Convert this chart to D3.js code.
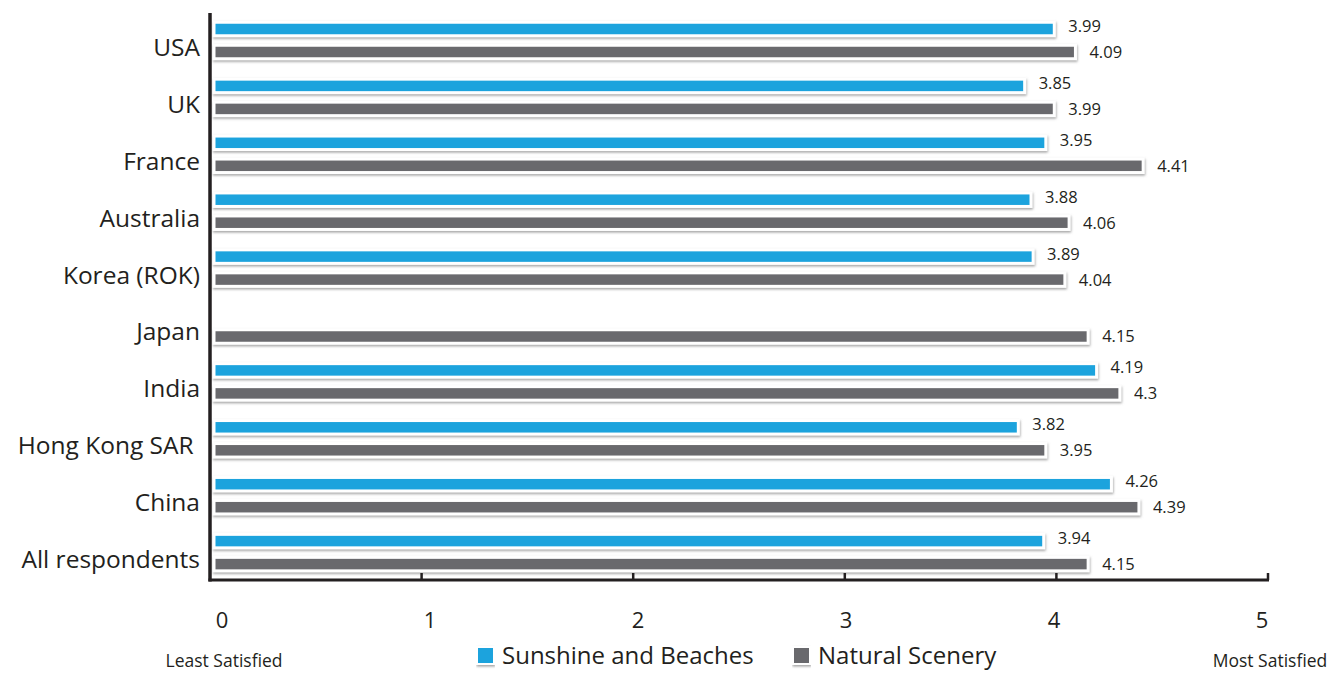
<!DOCTYPE html>
<html>
<head>
<meta charset="utf-8">
<script src="https://cdn.jsdelivr.net/npm/d3@7"></script>
<style>
  html, body { margin: 0; padding: 0; background: #fff; }
  svg { display: block; }
  text { font-family: "Open Sans", "Noto Sans", sans-serif; fill: #231f20; }
</style>
</head>
<body>
<svg id="chart" width="1342" height="673"></svg>
<script>
// Satisfaction ratings by respondent country (1 = least, 5 = most satisfied)
const categories = ["USA", "UK", "France", "Australia", "Korea (ROK)", "Japan",
                    "India", "Hong Kong SAR ", "China", "All respondents"];
const sunshineBeaches = [3.99, 3.85, 3.95, 3.88, 3.89, null, 4.19, 3.82, 4.26, 3.94];
const naturalScenery  = [4.09, 3.99, 4.41, 4.06, 4.04, 4.15, 4.3, 3.95, 4.39, 4.15];
const seriesNames = ["Sunshine and Beaches", "Natural Scenery"];
const seriesColors = ["#1ba3dd", "#69696d"];
const tickValues = [0, 1, 2, 3, 4, 5];
const endLabels = ["Least Satisfied", "Most Satisfied"];

const svg = d3.select("#chart");

// drop shadow used under bars and legend swatches
const defs = svg.append("defs");
const f = defs.append("filter").attr("id", "shadow")
  .attr("x", "-5%").attr("y", "-60%").attr("width", "110%").attr("height", "220%");
f.append("feDropShadow").attr("dx", 0.5).attr("dy", 1.5)
  .attr("stdDeviation", 1).attr("flood-color", "#8a8a8a").attr("flood-opacity", 0.8);

const x = d3.scaleLinear().domain([0, 5]).range([210, 1268]);
const xLabel = d3.scaleLinear().domain([0, 5]).range([222, 1262]);
const y = d3.scaleBand().domain(categories).range([12, 581]).padding(0);
const ySub = d3.scaleBand().domain(seriesNames).range([5.5, 51.5]).padding(0);
const barH = 13.5;

const rows = categories.map((c, i) => ({
  category: c,
  values: [sunshineBeaches[i], naturalScenery[i]]
}));

const groups = svg.append("g").selectAll("g.row").data(rows).join("g")
  .attr("class", "row")
  .attr("transform", d => `translate(0,${y(d.category)})`);

const cells = groups.selectAll("g.cell")
  .data(d => d.values.map((v, k) => ({ v, k })).filter(e => e.v != null))
  .join("g").attr("class", "cell");

cells.append("rect")
  .attr("x", x(0) + 4)
  .attr("y", d => ySub(seriesNames[d.k]) + ySub.bandwidth() / 2 - barH / 2)
  .attr("width", d => x(d.v) - x(0) - 4)
  .attr("height", barH)
  .attr("fill", d => seriesColors[d.k])
  .attr("stroke", "#fff")
  .attr("stroke-width", 3)
  .attr("filter", "url(#shadow)");

cells.append("text")
  .attr("x", d => x(d.v) + 14)
  .attr("y", d => ySub(seriesNames[d.k]) + ySub.bandwidth() / 2 + (d.k === 0 ? -3 : 0))
  .attr("dy", "0.36em")
  .attr("font-size", 16.5)
  .text(d => d.v);

// category labels
groups.append("text")
  .attr("x", 200)
  .attr("y", y.bandwidth() / 2 + 15.5)
  .attr("text-anchor", "end")
  .attr("font-size", 24.5)
  .attr("xml:space", "preserve")
  .style("white-space", "pre")
  .text(d => d.category);

// axes
const axisY = 580;
svg.append("line")
  .attr("x1", x(0)).attr("x2", x(0)).attr("y1", 13).attr("y2", axisY + 1.5)
  .attr("stroke", "#231f20").attr("stroke-width", 3.5);
svg.append("line")
  .attr("x1", x(0) - 1.5).attr("x2", x(5) + 1).attr("y1", axisY).attr("y2", axisY)
  .attr("stroke", "#231f20").attr("stroke-width", 3);
svg.append("g").selectAll("line").data(tickValues.filter(t => t > 0)).join("line")
  .attr("x1", d => x(d)).attr("x2", d => x(d))
  .attr("y1", axisY - 7).attr("y2", axisY)
  .attr("stroke", "#231f20").attr("stroke-width", 2.5);

svg.append("g").selectAll("text").data(tickValues).join("text")
  .attr("x", d => xLabel(d)).attr("y", 628)
  .attr("text-anchor", "middle").attr("font-size", 22)
  .text(d => d);

svg.append("text").attr("x", 224).attr("y", 667)
  .attr("text-anchor", "middle").attr("font-size", 17.5).text(endLabels[0]);
svg.append("text").attr("x", 1270).attr("y", 667)
  .attr("text-anchor", "middle").attr("font-size", 17.5).text(endLabels[1]);

// legend
const legendX = [477, 793];
const legend = svg.append("g").selectAll("g").data(seriesNames).join("g")
  .attr("transform", (d, i) => `translate(${legendX[i]},647)`);
legend.append("rect").attr("width", 17).attr("height", 17)
  .attr("fill", (d, i) => seriesColors[i])
  .attr("stroke", "#fff").attr("stroke-width", 2)
  .attr("filter", "url(#shadow)");
legend.append("text").attr("x", 25).attr("y", 17)
  .attr("font-size", 24).text(d => d);
</script>
</body>
</html>
